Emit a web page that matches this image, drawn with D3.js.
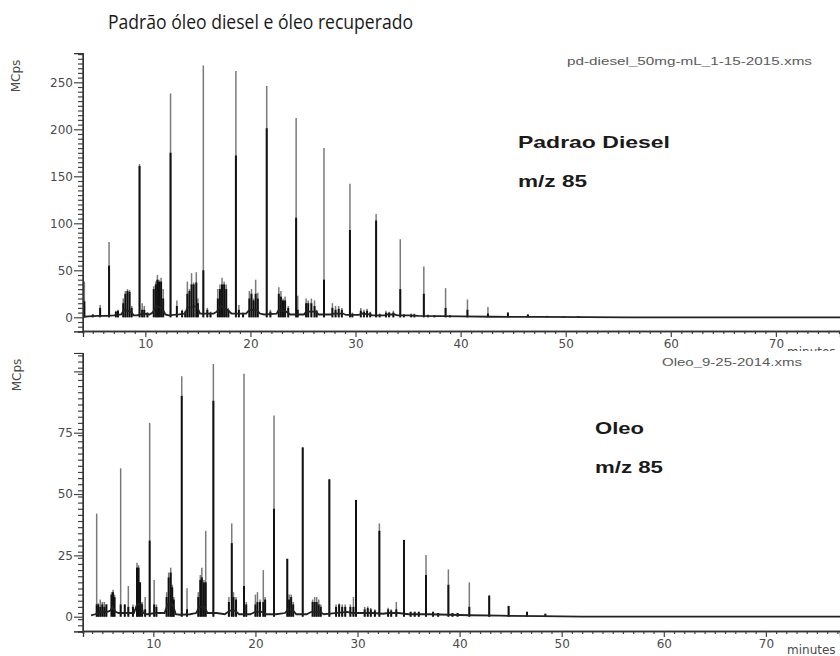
<!DOCTYPE html>
<html>
<head>
<meta charset="utf-8">
<script src="https://cdn.jsdelivr.net/npm/d3@7"></script>
<style>
  body { margin: 0; background: #fff; }
  svg { display: block; }
</style>
</head>
<body>
<svg id="chart" width="840" height="656"></svg>
<script>
// ---------- Padrão diesel, m/z 85 ----------
// retention time (min), apex intensity (MCps), dense core intensity (MCps)
const dieselPeakTimes = [
  4.2, 5.0, 5.7, 6.55, 7.2, 7.4, 7.9, 8.1, 8.3, 8.5, 8.7, 9.45, 9.7, 9.9, 10.2,
  10.8, 11.0, 11.15, 11.3, 11.5, 11.7, 12.4, 13.0, 13.5, 13.8,
  14.0, 14.2, 14.4, 14.6, 14.85, 15.0, 15.52, 15.9, 16.2,
  16.9, 17.1, 17.3, 17.5, 17.7, 17.9, 18.62, 18.9, 19.3,
  19.9, 20.1, 20.3, 20.5, 20.7, 21.55, 21.9,
  22.7, 22.9, 23.1, 23.3, 23.6, 24.35, 24.5,
  25.3, 25.5, 25.8, 26.1, 26.3, 27.0, 27.8, 28.1, 28.4, 28.7,
  29.47, 29.7, 30.5, 30.8, 31.1, 31.4, 31.96, 32.3, 32.9, 33.2, 33.6,
  34.26, 34.6, 35.3, 35.6, 36.5, 36.9, 37.5, 38.57, 39.0, 40.65,
  42.6, 44.5, 46.4, 48.2, 49.8, 51.2
];
const dieselPeakHeights = [
  38, 3, 13, 80, 7, 8, 20, 28, 30, 29, 12, 163, 15, 12, 5,
  33, 38, 45, 40, 42, 30, 238, 18, 8, 7,
  38, 30, 47, 37, 48, 20, 268, 10, 6,
  30, 35, 42, 38, 35, 10, 262, 13, 5,
  28, 30, 20, 40, 26, 246, 8,
  32, 28, 20, 22, 12, 212, 23,
  20, 18, 20, 18, 8, 180, 15, 12, 12, 10,
  142, 5, 10, 8, 9, 6, 110, 4, 7, 6, 7,
  83, 3, 4, 4, 54, 3, 2, 31, 2, 19,
  11, 5, 3, 1.5, 1, 1
];
const dieselPeakCores = [
  17, 3, 10, 55, 6, 7, 15, 25, 28, 27, 10, 161, 8, 8, 5,
  30, 35, 40, 38, 38, 20, 175, 12, 7, 6,
  25, 28, 35, 35, 37, 15, 50, 8, 5,
  20, 30, 35, 35, 30, 8, 172, 8, 4,
  20, 25, 18, 25, 20, 201, 6,
  25, 22, 18, 18, 10, 106, 8,
  15, 15, 15, 12, 7, 40, 10, 8, 9, 8,
  93, 4, 7, 6, 7, 5, 103, 3, 5, 5, 5,
  30, 3, 3, 3, 25, 2, 2, 10, 2, 8,
  4, 5, 3, 1.5, 1, 1
];
const dieselBaseTimes = [
  4.1, 4.6, 5.5, 6.3, 7.0, 7.7, 8.0, 8.6, 8.9, 9.2, 9.8, 10.4, 10.7, 11.0, 11.6,
  11.9, 12.2, 13.2, 13.8, 14.0, 14.9, 15.2, 16.5, 16.8, 17.2, 17.8, 18.2, 19.6,
  19.9, 20.6, 20.9, 21.3, 22.5, 22.7, 23.4, 23.8, 25.1, 25.3, 26.2, 26.5, 27.6,
  28.0, 28.8, 29.1, 30.3, 30.6, 31.3, 31.6, 32.8, 33.0, 33.7, 34.0, 35.0, 36.0,
  38.0, 40.0, 43.0, 47.0, 52.0, 56.0, 76.1
];
const dieselBaseValues = [
  0.5, 1, 1.5, 1.5, 2, 3, 8, 6, 2, 2, 4, 3, 5, 12, 10,
  3, 2, 3, 4, 10, 12, 4, 4, 6, 12, 8, 4, 4,
  8, 8, 4, 3, 4, 8, 6, 3, 3, 6, 6, 3, 3,
  4, 4, 2.5, 2.5, 4, 3, 2, 2, 3, 3, 2, 2, 1.5,
  1.2, 1, 0.6, 0.4, 0.2, 0, 0
];

// ---------- Óleo recuperado, m/z 85 ----------
const oleoPeakTimes = [
  4.45, 4.6, 4.8, 5.0, 5.2, 5.4, 5.9, 6.05, 6.2, 6.8, 7.2, 7.55, 8.0,
  8.4, 8.55, 8.7, 8.9, 9.2, 9.64, 10.08, 10.3,
  11.3, 11.5, 11.7, 11.85, 12.0, 12.78, 13.3,
  14.4, 14.6, 14.75, 14.95, 15.13, 15.88,
  17.4, 17.68, 17.85, 18.1, 18.88, 19.1,
  20.0, 20.2, 20.45, 20.77, 20.95, 21.82,
  23.12, 23.3, 23.5, 23.7, 24.63,
  25.6, 25.8, 26.0, 26.2, 26.4, 27.24,
  27.9, 28.2, 28.5, 28.8, 29.3, 29.6, 29.85,
  30.7, 31.0, 31.3, 31.7, 32.14, 33.0, 33.3, 33.8, 34.55,
  35.2, 35.6, 36.0, 36.71, 37.4, 37.9, 38.9, 39.3, 39.8, 40.95,
  42.9, 44.8, 46.6, 48.4
];
const oleoPeakHeights = [
  42, 5.5, 7, 6, 6, 5, 10, 11, 9, 60.5, 5, 12.5, 5,
  22, 21, 14, 6, 8, 79, 15, 5,
  10, 18, 20, 13, 8, 98, 11.6,
  10, 17, 20, 15, 35, 103,
  8, 38, 10, 8, 99, 6,
  9, 10, 7, 19, 8, 82,
  23.6, 9, 9, 6, 69,
  7, 8, 8, 7, 5, 56,
  5, 5.4, 5, 5, 5, 8, 47.6,
  4, 4.2, 3.5, 3, 38, 3.6, 3, 6, 31.3,
  2, 2, 2, 25.2, 2, 1.5, 19.3, 1.5, 1.5, 14,
  8.6, 4.4, 2, 1.2
];
const oleoPeakCores = [
  5, 5, 4, 5, 4, 5, 9, 10, 8, 5, 5, 4, 4,
  20, 20, 14, 5, 3, 31, 5, 4,
  8, 16, 18, 12, 7, 90, 3,
  8, 15, 16, 14, 14, 88,
  6, 30, 8, 7, 12.5, 5,
  5, 6, 6, 6, 7, 44,
  23.6, 7, 8, 5, 69,
  6, 6, 6, 5, 4, 56,
  4, 5, 4, 4, 4, 4, 47.6,
  3, 3.5, 3, 2.5, 35, 3, 2.5, 3, 31.3,
  2, 2, 2, 17, 2, 1.5, 13, 1.5, 1.5, 4,
  8.6, 4.4, 2, 1.2
];
const oleoBaseTimes = [
  3.9, 4.3, 4.8, 5.5, 5.8, 6.0, 6.3, 6.6, 7.2, 8.1, 8.4, 8.8, 9.0, 9.4, 10.2,
  11.1, 11.4, 11.9, 12.2, 12.6, 13.6, 14.2, 14.5, 15.0, 15.3, 16.2, 17.0, 17.5,
  18.0, 18.4, 19.5, 20.0, 20.6, 21.0, 22.0, 22.9, 23.2, 23.6, 24.0, 25.0, 25.5,
  26.3, 26.7, 27.8, 29.0, 29.5, 30.5, 31.5, 32.5, 33.0, 34.0, 35.0, 37.0, 39.0,
  41.0, 44.0, 48.0, 52.0, 77.3
];
const oleoBaseValues = [
  0.5, 1, 2, 2, 2.5, 4, 2, 1.5, 1.5, 1.5, 5, 5, 1.5, 1, 1.5,
  1.5, 5, 5, 1, 0.8, 1, 1.5, 4, 4, 1.5, 1.5, 1, 2.5,
  2.5, 1, 1, 2, 2, 1, 1, 1.5, 3, 3, 1, 1, 2,
  2, 1, 1.5, 2, 1.5, 1.5, 1.5, 1.2, 1.5, 1.5, 1, 1, 0.8,
  0.6, 0.4, 0.2, 0, 0
];

// ---------- axis ticks ----------
const xTickLabels = [10, 20, 30, 40, 50, 60, 70];
const dieselYTicks = [0, 50, 100, 150, 200, 250];
const oleoYTicks = [0, 25, 50, 75];
const oleoYUnlabeled = [100];

const W = 840, H = 656;
const svg = d3.select("#chart");
svg.append("rect").attr("width", W).attr("height", H).attr("fill", "#fff");

// page title
svg.append("text")
  .attr("x", 108).attr("y", 29)
  .attr("textLength", 305).attr("lengthAdjust", "spacingAndGlyphs")
  .style("font-family", "'Open Sans', Lato, sans-serif")
  .style("font-size", "20.5px").attr("fill", "#1a1a1a")
  .text("Padrão óleo diesel e óleo recuperado");

function drawPanel(p) {
  const g = svg.append("g");
  if (p.cover) {
    g.append("rect").attr("x", 0).attr("y", p.cover).attr("width", W)
      .attr("height", H - p.cover).attr("fill", "#fff");
  }
  const x = d3.scaleLinear().domain(p.tDomain).range([83, 840]);
  const y = d3.scaleLinear().domain([0, p.vRef]).range([p.y0, p.yRef]);
  const yAx = y.copy().domain(p.vAxis).range(p.vAxis.map(y));

  const clipId = "clip" + p.id;
  g.append("clipPath").attr("id", clipId).append("rect")
    .attr("x", 84).attr("y", yAx(p.vAxis[1]) - 2)
    .attr("width", 760).attr("height", p.axisY - yAx(p.vAxis[1]) + 2);
  const plot = g.append("g").attr("clip-path", `url(#${clipId})`);

  const idx = d3.range(p.times.length);
  // light upper part of each peak
  plot.selectAll("line.tip").data(idx).join("line").attr("class", "tip")
    .attr("x1", i => x(p.times[i])).attr("x2", i => x(p.times[i]))
    .attr("y1", y(0)).attr("y2", i => y(p.heights[i]))
    .attr("stroke", "#7a7a7a").attr("stroke-width", 1.5);
  // dense lower part of each peak
  plot.selectAll("line.core").data(idx).join("line").attr("class", "core")
    .attr("x1", i => x(p.times[i])).attr("x2", i => x(p.times[i]))
    .attr("y1", y(0)).attr("y2", i => y(p.cores[i]))
    .attr("stroke", "#111").attr("stroke-width", 2);
  // baseline trace
  const base = d3.range(p.baseT.length).map(i => [p.baseT[i], p.baseV[i]]);
  plot.append("path").datum(base)
    .attr("d", d3.line().x(d => x(d[0])).y(d => y(d[1])))
    .attr("fill", "none").attr("stroke", "#222").attr("stroke-width", 1.8);

  const tickText = sel => sel.selectAll("text")
    .style("font-family", "'DejaVu Sans', sans-serif")
    .style("font-size", "12px").attr("fill", "#4a4a4a");

  // y axis: minor ticks + axis line
  const yMinor = d3.range(p.vAxis[0], p.vAxis[1], p.yMinorStep)
    .filter(v => p.yMajor.indexOf(v) < 0 && p.yExtra.indexOf(v) < 0);
  const gy = g.append("g").attr("transform", "translate(83,0)");
  gy.append("g").call(d3.axisLeft(yAx).tickValues(yMinor).tickSize(5).tickFormat(""));
  gy.append("g").call(d3.axisLeft(yAx).tickValues(p.yExtra).tickSize(9).tickFormat(""));
  gy.append("g").call(d3.axisLeft(yAx).tickValues(p.yMajor).tickSize(9).tickPadding(1))
    .call(tickText);
  gy.selectAll("path.domain").attr("stroke", "#333");
  gy.selectAll(".tick line").attr("stroke", "#444").attr("stroke-width", 1.2);
  gy.append("line").attr("x1", 0).attr("x2", 0)
    .attr("y1", yAx(p.vAxis[1])).attr("y2", p.axisY)
    .attr("stroke", "#333").attr("stroke-width", 1.4);

  // x axis
  const xMinor = d3.range(Math.ceil(p.tDomain[0]), p.tDomain[1])
    .filter(t => xTickLabels.indexOf(t) < 0);
  const gx = g.append("g").attr("transform", `translate(0,${p.axisY})`);
  gx.append("g").call(d3.axisBottom(x).tickValues(xMinor).tickSize(3).tickFormat(""));
  gx.append("g").call(d3.axisBottom(x).tickValues(xTickLabels).tickSize(6).tickPadding(2))
    .call(tickText);
  gx.selectAll("path.domain").attr("stroke", "#333").attr("stroke-width", 1.3);
  gx.selectAll(".tick line").attr("stroke", "#444").attr("stroke-width", 1.2);

  // axis titles
  g.append("text")
    .attr("transform", `translate(${p.yTitle[0]},${p.yTitle[1]}) rotate(-90)`)
    .attr("text-anchor", "middle")
    .style("font-family", "'DejaVu Sans', sans-serif").style("font-size", "12px")
    .attr("fill", "#4a4a4a").text("MCps");
  g.append("text").attr("x", 787).attr("y", p.minutesY)
    .style("font-family", "'DejaVu Sans', sans-serif").style("font-size", "12px")
    .attr("fill", "#4a4a4a").text("minutes");

  // file name and annotation
  g.append("text").attr("x", p.file[0]).attr("y", p.file[1])
    .attr("textLength", p.file[2]).attr("lengthAdjust", "spacingAndGlyphs")
    .style("font-family", "'Liberation Sans', Arial, sans-serif").style("font-size", "11px")
    .attr("fill", "#5a5a5a").text(p.fileName);
  p.labels.forEach(l => {
    g.append("text").attr("x", l[0]).attr("y", l[1])
      .attr("textLength", l[2]).attr("lengthAdjust", "spacingAndGlyphs")
      .style("font-family", "'Liberation Sans', Arial, sans-serif")
      .style("font-size", "17px").style("font-weight", "bold")
      .attr("fill", "#1a1a1a").text(l[3]);
  });
}

drawPanel({
  id: "diesel",
  tDomain: [4.07, 76.1], vRef: 250, y0: 317.3, yRef: 82.3, vAxis: [-15, 281],
  axisY: 331, yMinorStep: 5, yMajor: dieselYTicks, yExtra: [],
  times: dieselPeakTimes, heights: dieselPeakHeights, cores: dieselPeakCores,
  baseT: dieselBaseTimes, baseV: dieselBaseValues,
  yTitle: [20, 76], minutesY: 356,
  fileName: "pd-diesel_50mg-mL_1-15-2015.xms", file: [567, 65, 245],
  labels: [[518, 148, 152, "Padrao Diesel"], [518, 187, 69, "m/z 85"]]
});

drawPanel({
  id: "oleo", cover: 351,
  tDomain: [3.11, 77.26], vRef: 75, y0: 616.7, yRef: 432.7, vAxis: [-6, 107.5],
  axisY: 631, yMinorStep: 2.5, yMajor: oleoYTicks, yExtra: oleoYUnlabeled,
  times: oleoPeakTimes, heights: oleoPeakHeights, cores: oleoPeakCores,
  baseT: oleoBaseTimes, baseV: oleoBaseValues,
  yTitle: [21, 375], minutesY: 654,
  fileName: "Oleo_9-25-2014.xms", file: [662, 366, 140],
  labels: [[595, 434, 49, "Oleo"], [595, 473, 68, "m/z 85"]]
});
</script>
</body>
</html>
